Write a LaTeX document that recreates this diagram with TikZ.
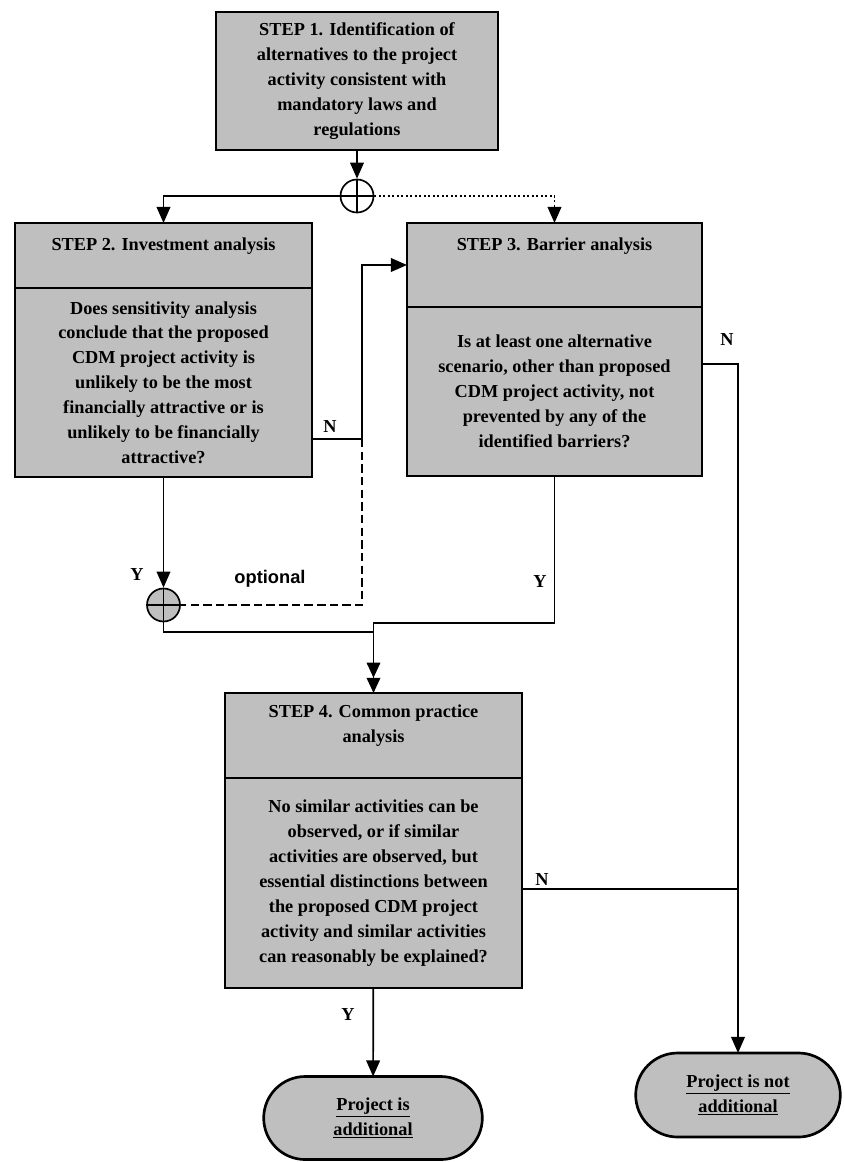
\documentclass[tikz,border=0pt]{standalone}
\usepackage{fontspec}
\setmainfont{Liberation Serif}
\newfontfamily\optfont{Liberation Sans}
\usetikzlibrary{arrows.meta,positioning,calc,shapes.misc}

\begin{document}
\begin{tikzpicture}[x=0.025cm,y=-0.025cm,
 font=\bfseries\fontsize{13}{17.7}\selectfont,
 box/.style={draw=black,line width=1.9pt,fill=black!25,align=center,inner sep=3pt,outer sep=0pt},
 htxt/.style={align=center,inner sep=0pt},
 term/.style={box,rounded rectangle},
 oplus/.style={circle,draw,line width=1.2pt,minimum size=0.825cm,inner sep=0pt,
   path picture={\draw[line width=1pt] (path picture bounding box.north) -- (path picture bounding box.south)
     (path picture bounding box.west) -- (path picture bounding box.east);}},
 arr/.style={-{Triangle[length=4mm,width=3.4mm]},line width=1.2pt},
 arrtwo/.style={-{Triangle[length=3.8mm,width=3.4mm]Triangle[length=3.8mm,width=3.4mm]},line width=1.2pt},
 conn/.style={line width=1.2pt},
 lbl/.style={inner sep=1pt}]
\useasboundingbox (0,0) rectangle (845,1162);

% step 1
\node[box,minimum width=7.05cm,minimum height=3.45cm] (s1) at (357,81) {STEP 1. Identification of\\alternatives to the project\\activity consistent with\\mandatory laws and\\regulations};
\node[oplus,fill=white] (c1) at (357,196) {};

% step 2
\node[box,minimum width=7.425cm,minimum height=1.625cm] (s2h) at (163.5,255.5) {};
\node[htxt] (s2t) at (163.5,246) {STEP 2. Investment analysis};
\node[box,below=0pt of s2h,minimum width=7.425cm,minimum height=4.725cm] (s2) {Does sensitivity analysis\\conclude that the proposed\\CDM project activity is\\unlikely to be the most\\financially attractive or is\\unlikely to be financially\\attractive?};

% step 3
\node[box,minimum width=7.375cm,minimum height=2.1cm] (s3h) at (554.5,265) {};
\node[htxt] (s3t) at (554.5,246) {STEP 3. Barrier analysis};
\node[box,below=0pt of s3h,minimum width=7.375cm,minimum height=4.225cm] (s3) {Is at least one alternative\\scenario, other than\ proposed\\CDM project activity, not\\prevented by any of the\\identified barriers?};

\node[oplus,fill=black!25] (c2) at (163.5,605) {};

% step 4
\node[box,minimum width=7.425cm,minimum height=2.125cm] (s4h) at (373.5,735.5) {};
\node[htxt] (s4t) at (373.5,726) {STEP 4. Common practice\\analysis};
\node[box,below=0pt of s4h,minimum width=7.425cm,minimum height=5.25cm] (s4) {No similar activities can be\\observed, or if similar\\activities are observed, but\\essential distinctions between\\the proposed CDM project\\activity and similar activities\\can reasonably be explained?};

% outcomes
\node[term,minimum width=5.675cm,minimum height=2.075cm] (t1) at (373,1118) {\underline{Project is}\\\underline{additional}};
\node[term,minimum width=5.325cm,minimum height=2.1cm] (t2) at (738,1095) {\underline{Project is not}\\\underline{additional}};

\coordinate (jl) at (373.5,632);
\coordinate (jr) at (373.5,623);

\draw[arr] (s1) -- (c1);
\draw[arr] (c1) -| (s2h);
\draw[arr,dotted] (c1) -| (s3h);
\draw[arr] ([yshift=0.95cm]s2.south east) -- ++(50,0) coordinate (bend) |- (s3h);
\draw[conn,dash pattern=on 6pt off 3pt] (bend) |- (c2);
\draw[arr] (s2) -- (c2);
\draw[conn] (c2) |- (jl);
\draw[arrtwo] (s3) |- (jr) -- (s4h);
\draw[arr] ([yshift=0.69cm]s3.east) -| (t2);
\draw[conn] ([yshift=-0.15cm]s4.east) coordinate (n4) -- (n4 -| t2.north);
\draw[arr] (s4) -- (t1);

% labels
\node[lbl] (n2) at (330,427) {N};
\node[lbl] (n3) at (727,340) {N};
\node[lbl] (n4l) at (542,880) {N};
\node[lbl] (y2) at (137,575) {Y};
\node[lbl] (y3) at (540,582) {Y};
\node[lbl] (y4) at (348,1015) {Y};
\node[lbl,font=\optfont\bfseries\fontsize{13}{15}\selectfont] (opt) at (270,579) {optional};
\end{tikzpicture}
\end{document}
